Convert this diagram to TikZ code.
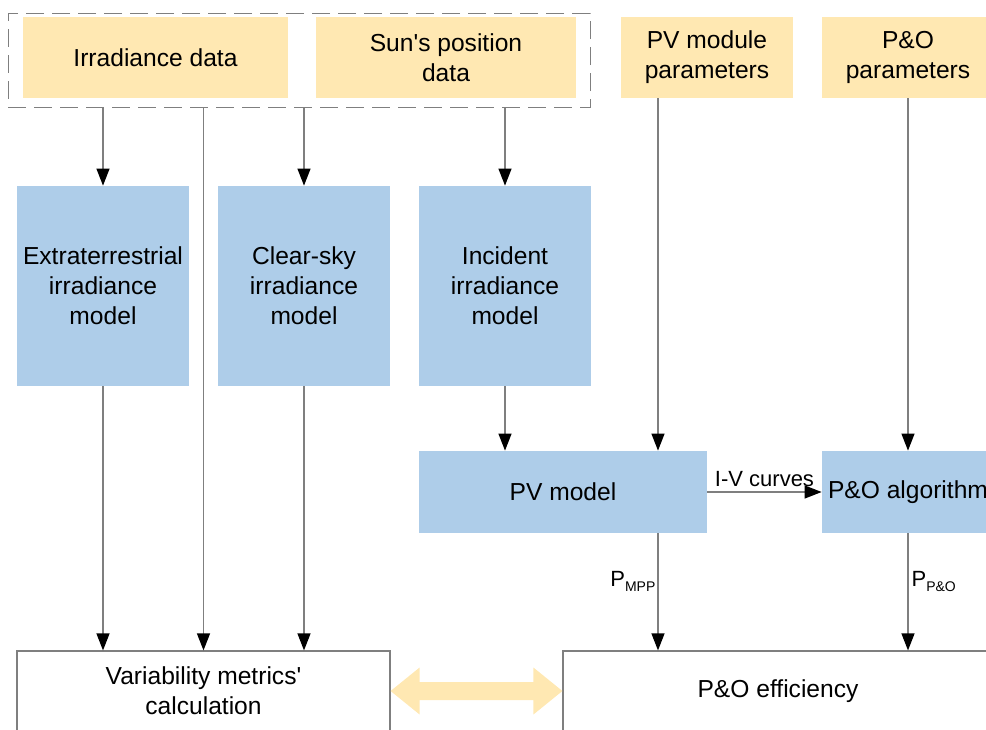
\documentclass[tikz,border=0pt]{standalone}
\usepackage{fontspec}
\setmainfont{Liberation Sans}
\usetikzlibrary{arrows.meta, positioning, calc}

\definecolor{datayellow}{HTML}{FFE8B2}
\definecolor{modelblue}{HTML}{AECDE9}
\definecolor{linegray}{HTML}{7F7F7F}

\newcommand{\lowidx}[1]{\raisebox{-0.45ex}{\fontsize{7}{8}\selectfont #1}}

\begin{document}
\begin{tikzpicture}[x=0.5pt, y=-0.5pt, on grid, font=\fontsize{12.3}{15}\selectfont]
\useasboundingbox (0,0) rectangle (986,729);
\clip (0,0) rectangle (986,729);

	\tikzset{databox/.style={fill=datayellow, minimum height=40.5pt, align=center, inner sep=0pt}}
	\tikzset{modelbox/.style={fill=modelblue, minimum width=86pt, align=center, inner sep=0pt}}
	\tikzset{calcbox/.style={draw=linegray, line width=0.6pt, fill=white, minimum height=40pt, align=center, inner sep=0pt}}
	\tikzset{flow/.style={draw=linegray, line width=0.6pt, -{Triangle[length=8.5pt, width=6.5pt, color=black]}}}
	\tikzset{flowlabel/.style={font=\fontsize{11}{13}\selectfont}}

% inputs
\node[draw=linegray, line width=0.5pt, dash pattern=on 9pt off 4pt, minimum width=291pt, minimum height=47pt] (data) at (299,60) {};
\node[databox, minimum width=132.5pt] (irr) at (155.5,57.5) {Irradiance data};
\node[databox, minimum width=130pt] (sun) at (446,57.5) {Sun\textquotesingle s position\\data};
\node[databox, minimum width=86pt] (pvpar) at (707,57.5) {PV module\\parameters};
\node[databox, minimum width=86pt] (popar) at (908,57.5) {P\&O\\parameters};

% models
\node[modelbox, minimum height=100pt] (extra) at (103,286) {Extraterrestrial\\irradiance\\model};
\node[modelbox, minimum height=100pt] (clear) [right=100.5pt of extra] {Clear-sky\\irradiance\\model};
\node[modelbox, minimum height=100pt] (incid) [right=100.5pt of clear] {Incident\\irradiance\\model};
\node[modelbox, minimum width=144pt, minimum height=41pt] (pvmod) at (563,492) {PV model};
\node[modelbox, minimum height=41pt] (poalg) at (908,492) {P\&O algorithm};

% outputs
\node[calcbox, minimum width=186.5pt] (var) at (203.5,691) {Variability metrics\textquotesingle\\calculation};
\node[calcbox, minimum width=215pt] (eff) at (778,691) {P\&O efficiency};

\draw[flow] (extra.north |- data.south) -- (extra.north);
\draw[flow] (var.north |- data.south) -- (var.north);
\draw[flow] (clear.north |- data.south) -- (clear.north);
\draw[flow] (incid.north |- data.south) -- (incid.north);
\draw[flow] (extra.south) -- (extra.south |- var.north);
\draw[flow] (clear.south) -- (clear.south |- var.north);
\draw[flow] (incid.south) -- (incid.south |- pvmod.north);
\draw[flow] ($(pvpar.south)+(-49,0)$) coordinate (tap) -- (tap |- pvmod.north);
\draw[flow] (popar.south) -- (poalg.north);
\draw[flow] (pvmod.east) -- node[flowlabel, above, inner sep=2.5pt] {I-V curves} (poalg.west);
\draw[flow] (tap |- pvmod.south) -- node[flowlabel, left, pos=0.41, inner sep=1pt] {P\lowidx{MPP}} (tap |- eff.north);
\draw[flow] (poalg.south) -- node[flowlabel, right, pos=0.41, inner sep=1.5pt] {P\lowidx{P\&O}} (poalg.south |- eff.north);

\fill[datayellow] (var.east) -- ++(29,-23.5) -- ++(0,14.5) -- ($(eff.west)+(-29,-9)$) -- ++(0,-14.5) -- (eff.west) -- ++(-29,23.5) -- ++(0,-14.5) -- ($(var.east)+(29,9)$) -- ++(0,14.5) -- cycle;

\end{tikzpicture}
\end{document}
